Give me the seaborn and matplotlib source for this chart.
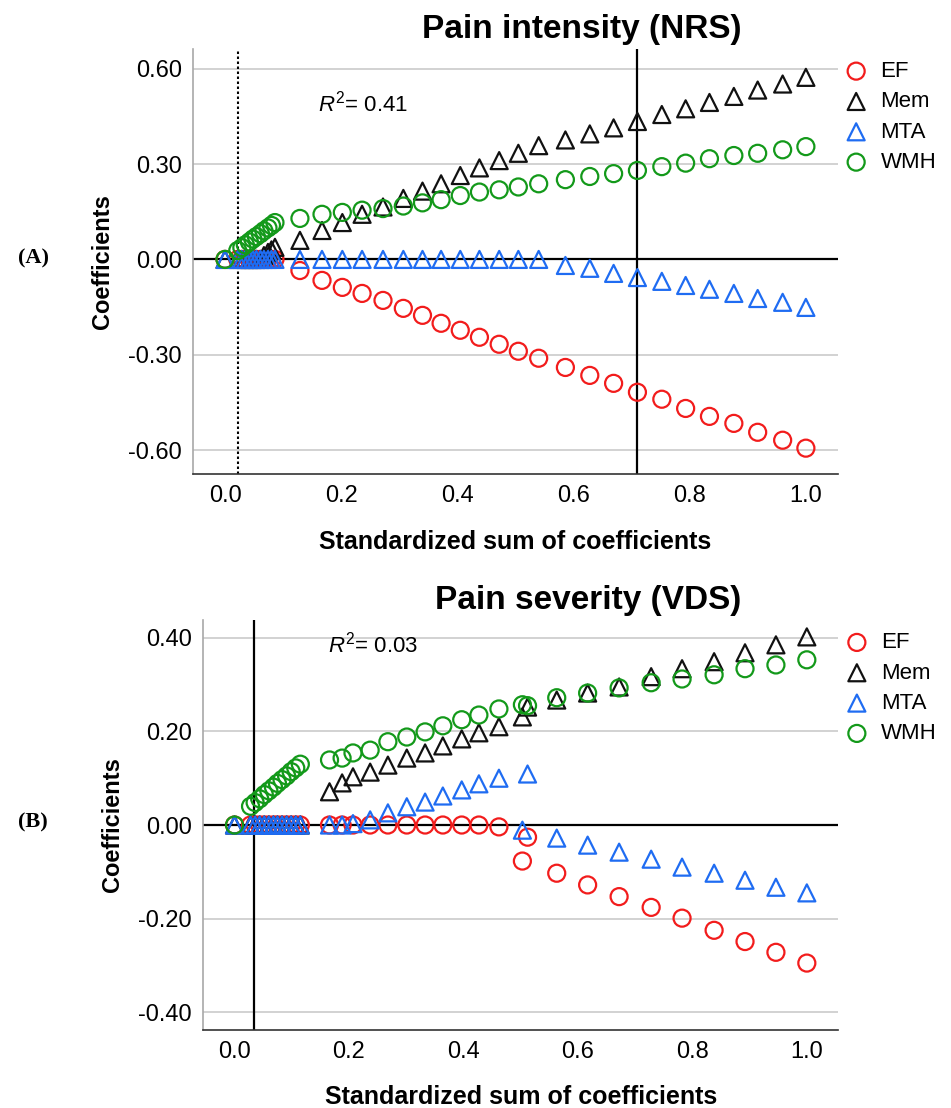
import numpy as np
import pandas as pd
import matplotlib
matplotlib.use("Agg")
import matplotlib.pyplot as plt
from matplotlib.ticker import FormatStrFormatter
import seaborn as sns

sns.set_style("white", {"text.color": "black", "axes.labelcolor": "black",
                        "xtick.color": "black", "ytick.color": "black"})
plt.rcParams["font.family"] = ["Liberation Sans", "DejaVu Sans"]
plt.rcParams["axes.unicode_minus"] = False
plt.rcParams["mathtext.fontset"] = "custom"
plt.rcParams["mathtext.rm"] = "Liberation Sans"
plt.rcParams["mathtext.it"] = "Liberation Sans:italic"

# ---------------- (A) Pain intensity (NRS) ----------------
x_a = [0.0, 0.022, 0.029, 0.035, 0.042, 0.048, 0.054, 0.061, 0.067, 0.074, 0.080, 0.086,
       0.129, 0.167, 0.202, 0.236, 0.272, 0.307, 0.340, 0.372, 0.405, 0.438, 0.472, 0.505, 0.540,
       0.586, 0.628, 0.669, 0.710, 0.752, 0.793, 0.834, 0.876, 0.917, 0.960, 1.000]
ef_a = [0.0] * 12 + [-0.035, -0.066, -0.088, -0.107, -0.129, -0.154, -0.176, -0.201, -0.223,
                     -0.245, -0.267, -0.289, -0.311,
                     -0.340, -0.365, -0.390, -0.418, -0.440, -0.469, -0.494, -0.516, -0.544,
                     -0.569, -0.594]
mem_a = [0.0] * 8 + [0.012, 0.022, 0.030, 0.038,
                     0.060, 0.091, 0.116, 0.142, 0.165, 0.192, 0.215, 0.238, 0.264, 0.288,
                     0.311, 0.334, 0.358,
                     0.376, 0.395, 0.414, 0.434, 0.456, 0.474, 0.494, 0.513, 0.533, 0.552, 0.573]
mta_a = [0.0] * 25 + [-0.019, -0.028, -0.044, -0.057, -0.069, -0.082, -0.094, -0.107, -0.123,
                      -0.135, -0.151]
wmh_a = [0.0, 0.028, 0.037, 0.046, 0.055, 0.064, 0.072, 0.081, 0.090, 0.099, 0.107, 0.116,
         0.129, 0.142, 0.148, 0.155, 0.160, 0.168, 0.178, 0.188, 0.201, 0.212, 0.219, 0.228, 0.238,
         0.251, 0.261, 0.270, 0.280, 0.292, 0.303, 0.317, 0.327, 0.334, 0.345, 0.355]

# ---------------- (B) Pain severity (VDS) ----------------
x_b = [0.0, 0.028, 0.036, 0.044, 0.052, 0.060, 0.068, 0.075, 0.083, 0.091, 0.099, 0.107, 0.115,
       0.166, 0.188, 0.207, 0.237, 0.268, 0.301, 0.333, 0.364, 0.397, 0.427, 0.462, 0.512, 0.503,
       0.563, 0.617, 0.672, 0.728, 0.782, 0.838, 0.892, 0.946, 1.000]
ef_b = [0.0] * 13 + [0.0, 0.0, 0.0, 0.0, 0.0, 0.0, 0.0, 0.0, 0.0, 0.0, -0.004, -0.026, -0.077,
                     -0.103, -0.128, -0.153, -0.176, -0.199, -0.225, -0.249, -0.272, -0.295]
mem_b = [0.0] * 13 + [0.071, 0.090, 0.103, 0.113, 0.128, 0.143, 0.154, 0.169, 0.184, 0.197,
                      0.210, 0.252, 0.231,
                      0.267, 0.282, 0.295, 0.317, 0.334, 0.349, 0.368, 0.385, 0.402]
mta_b = [0.0] * 13 + [0.0, 0.0, 0.003, 0.011, 0.026, 0.039, 0.049, 0.062, 0.075, 0.088,
                      0.100, 0.109, -0.011,
                      -0.028, -0.043, -0.058, -0.073, -0.090, -0.103, -0.118, -0.133, -0.145]
wmh_b = [0.0, 0.040, 0.048, 0.056, 0.065, 0.073, 0.081, 0.089, 0.097, 0.105, 0.114, 0.122, 0.130,
         0.139, 0.143, 0.154, 0.160, 0.178, 0.188, 0.199, 0.212, 0.225, 0.235, 0.248, 0.255, 0.257,
         0.272, 0.282, 0.293, 0.304, 0.312, 0.321, 0.334, 0.342, 0.353]

variables = ["EF", "Mem", "MTA", "WMH"]
colors = {"EF": "#f21c1c", "Mem": "#111111", "MTA": "#1f6cf2", "WMH": "#13991a"}
markers = {"EF": "o", "Mem": "^", "MTA": "^", "WMH": "o"}
xticks = [0.0, 0.2, 0.4, 0.6, 0.8, 1.0]

fig = plt.figure(figsize=(9.51, 11.08), dpi=100)
ax_a = fig.add_axes([0.203, 0.572, 0.678, 0.384])
ax_b = fig.add_axes([0.2135, 0.0704, 0.668, 0.370])


def draw_panel(ax, x, series, ylim, yticks, r2_xy, r2_text):
    ax.axhline(0, color="black", lw=1.6, zorder=1)
    for var in variables:
        df = pd.DataFrame({"x": x, "coef": series[var]})
        sns.scatterplot(data=df, x="x", y="coef", ax=ax, marker=markers[var], s=150,
                        color=colors[var], facecolors="none", edgecolors=colors[var],
                        linewidth=1.6, label=var, zorder=3)
    ax.set_xlim(-0.055, 1.055)
    ax.set_ylim(*ylim)
    ax.set_xticks(xticks)
    ax.set_yticks(yticks)
    ax.xaxis.set_major_formatter(FormatStrFormatter("%.1f"))
    ax.yaxis.set_major_formatter(FormatStrFormatter("%.2f"))
    ax.tick_params(length=0, labelsize=17, pad=8, labelcolor="black")
    ax.yaxis.grid(True, color="#d2d2d2", lw=1.4)
    ax.set_axisbelow(True)
    for sp in ["top", "right"]:
        ax.spines[sp].set_visible(False)
    ax.spines["left"].set_color("#a8a8a8")
    ax.spines["left"].set_linewidth(1.2)
    ax.spines["bottom"].set_color("#333333")
    ax.spines["bottom"].set_linewidth(1.2)
    ax.set_xlabel("Standardized sum of coefficients", fontsize=18, fontweight="bold",
                  labelpad=16, color="black")
    ax.set_ylabel("Coefficients", fontsize=17, fontweight="bold", labelpad=10, color="black")
    ax.text(r2_xy[0], r2_xy[1], r2_text, fontsize=16, va="center", color="black")
    ax.legend(loc="upper left", bbox_to_anchor=(0.975, 1.0), frameon=False, fontsize=16,
              handletextpad=0.1, labelspacing=0.42, markerscale=1.0, borderaxespad=0.15)


draw_panel(ax_a, x_a, {"EF": ef_a, "Mem": mem_a, "MTA": mta_a, "WMH": wmh_a},
           (-0.676, 0.663), [-0.6, -0.3, 0.0, 0.3, 0.6], (0.16, 0.49), r"$R^2$= 0.41")
ax_a.axvline(0.022, color="black", lw=1.5, ls=(0, (1.2, 1.2)), zorder=2)
ax_a.axvline(0.710, color="black", lw=1.6, zorder=2)

draw_panel(ax_b, x_b, {"EF": ef_b, "Mem": mem_b, "MTA": mta_b, "WMH": wmh_b},
           (-0.438, 0.438), [-0.4, -0.2, 0.0, 0.2, 0.4], (0.164, 0.385), r"$R^2$= 0.03")
ax_b.axvline(0.034, color="black", lw=1.6, zorder=2)

fig.text(0.612, 0.973, "Pain intensity (NRS)", fontsize=24, fontweight="bold",
         ha="center", va="center", color="black")
fig.text(0.618, 0.458, "Pain severity (VDS)", fontsize=24, fontweight="bold",
         ha="center", va="center", color="black")
fig.text(0.035, 0.767, "(A)", fontsize=16, fontweight="bold", family="Liberation Serif",
         ha="center", va="center", color="black")
fig.text(0.035, 0.258, "(B)", fontsize=16, fontweight="bold", family="Liberation Serif",
         ha="center", va="center", color="black")

fig.savefig("out.png", dpi=100)
